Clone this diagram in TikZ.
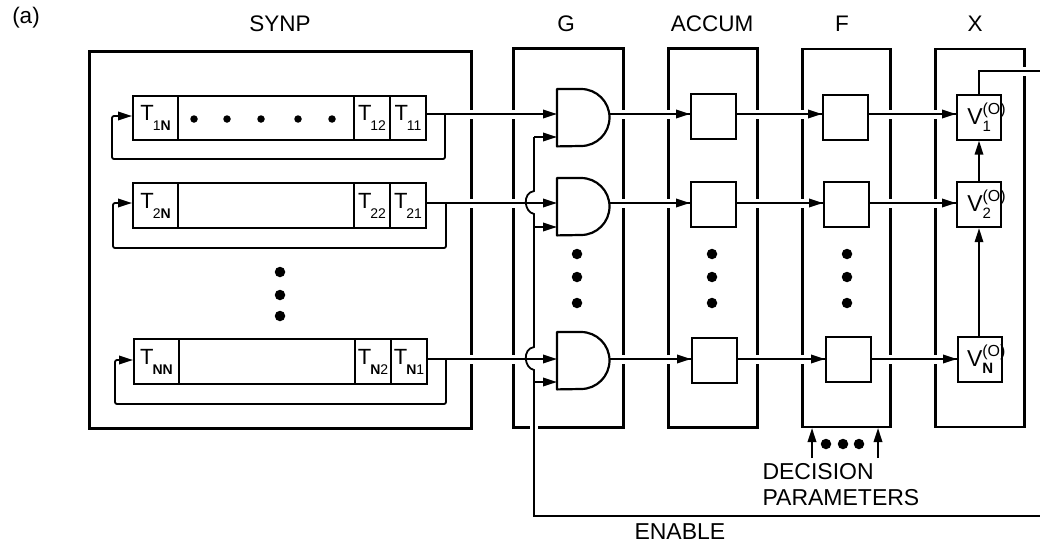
\documentclass[tikz,border=0pt]{standalone}
\usepackage{fontspec}
\setmainfont{Liberation Sans}
\usetikzlibrary{arrows.meta,calc}
\newcommand{\fsz}[1]{\fontsize{#1}{#1}\selectfont}
\newcommand{\tlab}[1]{T\kern-1pt\raisebox{-10pt}{\fsz{14}#1}}
\newcommand{\vlab}[1]{V\rlap{\raisebox{10pt}{\fsz{16}(O)}}\raisebox{-7pt}{\fsz{15}#1}\hspace{13pt}}
\tikzset{
  tip/.style={-{Triangle[length=14pt,width=8.5pt]}},
  frame/.style={draw,line width=2.5pt,inner sep=0pt,anchor=north west},
  cell/.style={draw,line width=2pt,inner sep=0pt,anchor=north west,font=\fsz{22}},
  cellbox/.style={draw,line width=2.2pt,inner sep=0pt,anchor=north west,font=\fsz{23},minimum width=45pt,minimum height=45pt},
  gatebox/.style={inner sep=0pt,anchor=north west,minimum width=52pt,minimum height=57pt},
  gateline/.style={line width=2.2pt,line join=round},
  wire/.style={line width=1.8pt,preaction={draw=white,line width=9pt,arrows=-}},
  plain/.style={line width=1.8pt},
  bigdot/.style={circle,fill=black,inner sep=0pt,minimum size=10.5pt},
  smalldot/.style={circle,fill=black,inner sep=0pt,minimum size=7.5pt},
  title/.style={font=\fsz{22.5}}
}
\begin{document}
\begin{tikzpicture}[x=1pt,y=-1pt]
\useasboundingbox (0,0) rectangle (1040,546);
% titles
\node[title] (ta) at (26,18) {(a)};
\node[title] (t0) at (280,24) {SYNP};
\node[title] (t1) at (566,24) {G};
\node[title] (t2) at (712,24) {ACCUM};
\node[title] (t3) at (842,24) {F};
\node[title] (t4) at (975,24) {X};
% frames
\node[frame,minimum width=382pt,minimum height=377pt] (fs) at (88,50) {};
\node[frame,minimum width=110pt,minimum height=379pt] (fg) at (512,47) {};
\node[frame,minimum width=89pt,minimum height=379pt] (fa) at (667,47) {};
\node[frame,minimum width=88pt,minimum height=378pt] (ff) at (801,47.5) {};
\node[frame,minimum width=89pt,minimum height=378pt] (fx) at (934,47.5) {};
% row levels
\coordinate (r1) at (0,114);
\coordinate (r2) at (0,203);
\coordinate (r3) at (0,359);
% placed boxes
\node[cellbox] (a1) at (690,93) {};
\node[cellbox] (a2) at (690,180.5) {};
\node[cellbox] (a3) at (691,336.5) {};
\node[cellbox] (b1) at (822,93.5) {};
\node[cellbox] (b2) at (823,180.5) {};
\node[cellbox] (b3) at (825,336) {};
\node[cellbox,minimum width=44pt] (v1) at (956,93.5) {\vlab{1}};
\node[cellbox,minimum width=44pt] (v2) at (956,181) {\vlab{2}};
\node[cellbox,minimum width=44pt] (v3) at (957,336) {\vlab{\textbf{N}}};
\node[gatebox] (g1) at (557,89) {};
\node[gatebox] (g2) at (557,178) {};
\node[gatebox] (g3) at (557,332) {};
% register cells
\node[cell,minimum width=45pt,minimum height=44pt] (c1n) at (132,95) {\tlab{1\textbf{N}}};
\node[cell,minimum width=176pt,minimum height=44pt] (c1m) at (177,95) {};
\node[cell,minimum width=36pt,minimum height=44pt] (c12) at (353,95) {\tlab{12}};
\node[cell,minimum width=36pt,minimum height=44pt] (c11) at (389,95) {\tlab{11}};
\node[cell,minimum width=45pt,minimum height=45pt] (c2n) at (132,182) {\tlab{2\textbf{N}}};
\node[cell,minimum width=176pt,minimum height=45pt] (c2m) at (177,182) {};
\node[cell,minimum width=36pt,minimum height=45pt] (c22) at (353,182) {\tlab{22}};
\node[cell,minimum width=36pt,minimum height=45pt] (c21) at (389,182) {\tlab{21}};
\node[cell,minimum width=45pt,minimum height=45pt] (c3n) at (133,338) {\tlab{\textbf{NN}}};
\node[cell,minimum width=176pt,minimum height=45pt] (c3m) at (178,338) {};
\node[cell,minimum width=36pt,minimum height=45pt] (c32) at (354,338) {\tlab{\textbf{N}2}};
\node[cell,minimum width=36pt,minimum height=45pt] (c31) at (390,338) {\tlab{\textbf{N}1}};
% wires
\foreach \i/\c in {1/c11,2/c21,3/c31}{
  \draw[wire,tip] (\c.east |- r\i) -- (g\i.west |- r\i);
  \draw[wire] (g\i.east |- r\i) -- (a\i.west |- r\i);
  \draw[plain,tip] ($(a\i.west |- r\i)+(-22,0)$) -- (a\i.west |- r\i);
  \draw[wire] (a\i.east |- r\i) -- (b\i.west |- r\i);
  \draw[plain,tip] ($(b\i.west |- r\i)+(-22,0)$) -- (b\i.west |- r\i);
  \draw[wire] (b\i.east |- r\i) -- (v\i.west |- r\i);
  \draw[plain,tip] ($(v\i.west |- r\i)+(-22,0)$) -- (v\i.west |- r\i);
}
% feedback loops
\coordinate (l1) at (445,159);
\coordinate (l2) at (446,248);
\coordinate (l3) at (446,404);
\draw[plain,tip,rounded corners=2pt] (l1 |- r1) -- (l1) -- (112,159) -- (112,116) -- (c1n.west |- 0,116);
\draw[plain,tip,rounded corners=2pt] (l2 |- r2) -- (l2) -- (113,248) -- (113,203) -- (c2n.west |- r2);
\draw[plain,tip,rounded corners=2pt] (l3 |- r3) -- (l3) -- (115,404) -- (115,360) -- (c3n.west |- 0,360);
% gates
\foreach \g in {g1,g2,g3}{
  \draw[gateline,fill=white] (\g.north west) -- ++(24,0) arc[start angle=90,end angle=-90,radius=28.5pt] -- (\g.south west) -- cycle;
}
% enable line
\coordinate (en1) at (534,137);
\coordinate (en2) at (534,227);
\coordinate (en3) at (534,382);
\coordinate (enb) at (534,516);
\coordinate (enr) at (1040,516);
\coordinate (top) at (1040,71);
\draw[white,line width=8pt] (534,421) -- (534,431);
\draw[plain] (enr) -- (enb) -- (534,370)
  .. controls (524,368) and (522,349) .. (534,347)
  -- (534,214) .. controls (524,212) and (522,193) .. (534,191) -- (en1);
\draw[plain,tip] (en1) -- (g1.west |- en1);
\draw[plain,tip] (en2) -- (g2.west |- en2);
\draw[plain,tip] (en3) -- (g3.west |- en3);
% X chain
\draw[plain,tip] (v3.north -| 979,0) -- (v2.south -| 979,0);
\draw[plain,tip] (v2.north -| 979,0) -- (v1.south -| 979,0);
\draw[wire] (v1.north -| 979,0) -- (979,71) -- (top);
% vertical dots
\foreach \n/\x/\y in {s1/280/272,s2/280/295,s3/280/316,
  g4/577/254,g5/577/277,g6/577/303,
  a4/712/254,a5/712/277,a6/712/303,
  b4/847/254,b5/847/277,b6/847/303,
  d1x/826/444,d2x/843/444,d3x/859/444}{
  \node[bigdot] (\n) at (\x,\y) {};
}
\foreach \n/\x in {m1/194,m2/227,m3/261,m4/298,m5/332}{
  \node[smalldot] (\n) at (\x,119) {};
}
% decision parameters
\coordinate (d1) at (812,458);
\coordinate (d2) at (878,458);
\draw[plain,tip] (d1) -- (d1 |- ff.south);
\draw[plain,tip] (d2) -- (d2 |- ff.south);
\node[font=\fsz{23},anchor=west] (dp) at (759,472) {DECISION};
\node[font=\fsz{23},anchor=west] (dq) at (759,498) {PARAMETERS};
\node[font=\fsz{23},anchor=west] (en) at (631,532) {ENABLE};
\end{tikzpicture}
\end{document}
